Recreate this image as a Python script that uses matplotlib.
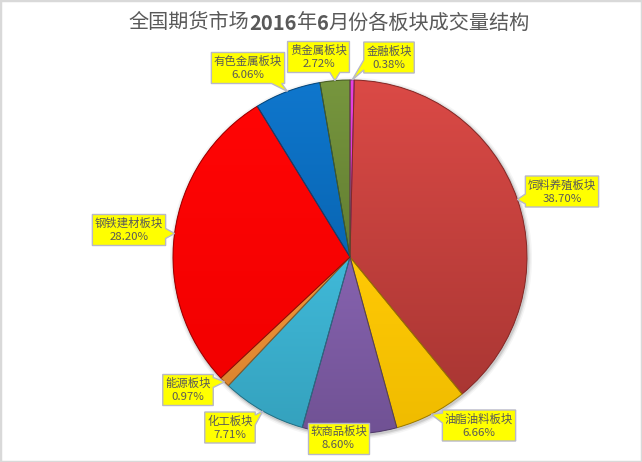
import matplotlib
matplotlib.use('Agg')
import matplotlib.pyplot as plt
import numpy as np
from matplotlib.colors import to_rgb
from matplotlib.patches import Polygon, Rectangle, Circle, Wedge

# ---------------- data ----------------
categories = ['金融板块', '饲料养殖板块', '油脂油料板块', '软商品板块', '化工板块',
              '能源板块', '钢铁建材板块', '有色金属板块', '贵金属板块']
shares = [0.38, 38.70, 6.66, 8.60, 7.71, 0.97, 28.20, 6.06, 2.72]
colors = ['#e83ce0', '#da4642', '#ffc800', '#8460ae', '#3cb8d8',
          '#f59434', '#ff0000', '#0a74cc', '#74943a']
darken = [0.1, 0.22, 0.06, 0.15, 0.12, 0.1, 0.05, 0.12, 0.15]
title_parts = [('全国期货市场', 'normal'), ('2016', 'bold'), ('年', 'normal'),
               ('6', 'bold'), ('月份各板块成交量结构', 'normal')]

# ---------------- layout (pixels, y down) ----------------
W, H = 642, 462
label_centers = {
    '金融板块': (389, 57.5),
    '饲料养殖板块': (562, 191.5),
    '油脂油料板块': (479, 425.5),
    '软商品板块': (338.5, 438),
    '化工板块': (230, 427.5),
    '能源板块': (188, 390),
    '钢铁建材板块': (129, 230),
    '有色金属板块': (248, 68),
    '贵金属板块': (318.5, 57),
}
FONT = ['Noto Sans CJK SC', 'DejaVu Sans']
plt.rcParams['font.family'] = FONT

fig = plt.figure(figsize=(6.42, 4.62), dpi=100)
fig.patch.set_facecolor('white')
ax = fig.add_axes([0, 0, 1, 1])

CX, CY, R = 350, H - 257, 177

# soft shadow around the pie
for k, a in [(4.0, 0.08), (2.5, 0.15), (1.2, 0.25)]:
    ax.add_patch(Circle((CX + 1, CY - 1.5), R + k, color='#808080', alpha=a,
                        lw=0, zorder=0.5))

wedges, _ = ax.pie(shares, colors=colors, startangle=90, counterclock=False,
                   center=(CX, CY), radius=R,
                   wedgeprops=dict(linewidth=0, zorder=1))


def shade(c, f):
    c = np.array(to_rgb(c))
    if f >= 0:
        return c + (1 - c) * f
    return c * (1 + f)


# gradient fill per wedge
for w, c, d in zip(wedges, colors, darken):
    ext = w.get_path().get_extents()
    top, bot = shade(c, 0.02), shade(c, -d)
    t = np.linspace(0, 1, 128)[:, None]
    arr = (top[None, :] * (1 - t) + bot[None, :] * t)[:, None, :]
    im = ax.imshow(arr, extent=(ext.x0, ext.x1, ext.y0, ext.y1), origin='upper',
                   aspect='auto', interpolation='bilinear', zorder=1.5)
    im.set_clip_path(w)
    ax.add_patch(Wedge((CX, CY), R, w.theta1, w.theta2, fc='none',
                       ec=shade(c, -0.4), lw=0.7, zorder=2))

ax.set_xlim(0, W)
ax.set_ylim(0, H)
ax.set_aspect('auto')
ax.axis('off')

renderer = fig.canvas.get_renderer()

# ---------------- callouts ----------------
BW = 10
for w, name, pct in zip(wedges, categories, shares):
    lx, ly = label_centers[name]
    ly = H - ly
    mid = np.deg2rad((w.theta1 + w.theta2) / 2)
    tx, ty = CX + R * np.cos(mid), CY + R * np.sin(mid)
    txt = ax.text(lx, ly, f'{name}\n{pct:.2f}%', ha='center', va='center',
                  fontsize=8.2, color='#595959', linespacing=1.38, zorder=6)
    bb = txt.get_window_extent(renderer)
    x0, x1 = bb.x0 - 2.5, bb.x1 + 2.5
    y0, y1 = ly - 15.5, ly + 15.5
    pts = [(x0, y0)]
    inside = x0 <= tx <= x1 and y0 <= ty <= y1
    dx = max(x0 - tx, tx - x1, 0)
    dy = max(y0 - ty, ty - y1, 0)
    side = None
    if not inside:
        if dx >= dy:
            side = 'left' if tx < x0 else 'right'
        else:
            side = 'bottom' if ty < y0 else 'top'
    bx = np.clip(tx, x0 + 3 + BW / 2, x1 - 3 - BW / 2)
    by = np.clip(ty, y0 + 3 + BW / 2, y1 - 3 - BW / 2)
    if side == 'bottom':
        pts += [(bx - BW / 2, y0), (tx, ty), (bx + BW / 2, y0)]
    pts.append((x1, y0))
    if side == 'right':
        pts += [(x1, by - BW / 2), (tx, ty), (x1, by + BW / 2)]
    pts.append((x1, y1))
    if side == 'top':
        pts += [(bx + BW / 2, y1), (tx, ty), (bx - BW / 2, y1)]
    pts.append((x0, y1))
    if side == 'left':
        pts += [(x0, by + BW / 2), (tx, ty), (x0, by - BW / 2)]
    ax.add_patch(Polygon(pts, closed=True, fc='#ffff00', ec='#b8b8c8', lw=1.0,
                         zorder=5))

# ---------------- title with bold digits ----------------
texts = []
for s, wt in title_parts:
    t = fig.text(0, 0, s, fontsize=14.5, fontweight=wt, color='#595959',
                 ha='left', va='center', family=FONT)
    texts.append(t)
widths = [t.get_window_extent(renderer).width for t in texts]
total = sum(widths)
x = 329 - total / 2
for t, wd in zip(texts, widths):
    t.set_position((x / W, (H - 23) / H))
    x += wd

# border
fig.add_artist(Rectangle((0, 0), 1, 1, transform=fig.transFigure, fill=False,
                         ec='#d9d9d9', lw=2.5))

fig.savefig('out.png', dpi=100, facecolor='white')
